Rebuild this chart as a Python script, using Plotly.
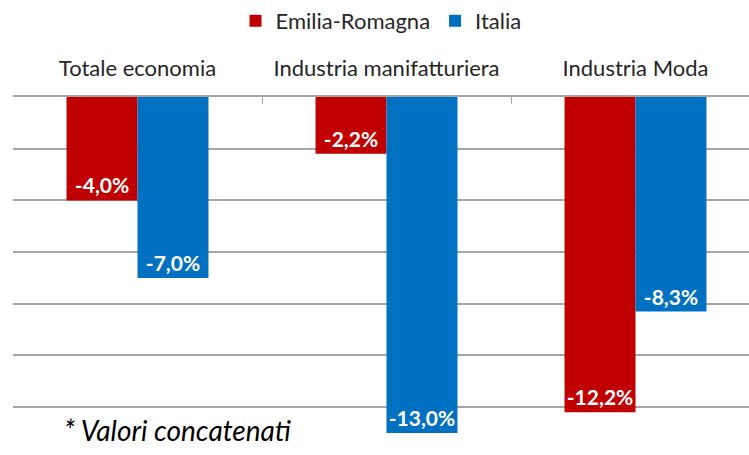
import plotly.graph_objects as go

categories = ["Totale economia", "Industria manifatturiera", "Industria Moda"]
emilia = [-4.0, -2.2, -12.2]
italia = [-7.0, -13.0, -8.3]
series_names = ["Emilia-Romagna", "Italia"]
colors = ["#C00000", "#0070C0"]

def fmt(v):
    return f"{v:.1f}%".replace(".", ",")

fig = go.Figure()
for name, vals, col in zip(series_names, [emilia, italia], colors):
    fig.add_trace(go.Bar(
        x=categories, y=vals, name=name, marker=dict(color=col, line=dict(width=0)),
        text=[fmt(v) for v in vals], textposition="inside", insidetextanchor="end",
        textangle=0, constraintext="none",
        textfont=dict(family="Lato", size=21, color="white", weight="bold"),
        cliponaxis=False,
    ))

fig.update_layout(
    width=749, height=455,
    margin=dict(l=13, r=0, t=97, b=0, autoexpand=False),
    paper_bgcolor="white", plot_bgcolor="white",
    barmode="group", bargap=0.43, bargroupgap=0,
    font=dict(family="Lato", size=22, color="#262626"),
    legend=dict(orientation="h", x=0.5, xanchor="center", y=1.0, yref="container",
                yanchor="top", font=dict(size=22), itemwidth=30,
                traceorder="normal"),
    xaxis=dict(side="top", showline=True, linecolor="#A6A6A6", linewidth=1.5,
               ticks="inside", tickson="boundaries", ticklen=7, tickcolor="#A6A6A6",
               range=[-0.5, 2.5 - 11/249], showgrid=False, ticklabelstandoff=10,
               automargin=False, tickfont=dict(size=22, color="#262626")),
    yaxis=dict(range=[-13.85, 0], dtick=2, showticklabels=False, showgrid=True,
               automargin=False,
               gridcolor="#A6A6A6", gridwidth=1.5, zeroline=False, showline=False),
    showlegend=True,
)

fig.add_annotation(text="<i>* Valori concatenati</i>", xref="paper", yref="paper",
                   x=49/736, xanchor="left", y=(455-430)/358, yanchor="middle",
                   showarrow=False, font=dict(size=28, color="black", family="Lato"))

fig.write_html("out.html", config={"displayModeBar": False},
               post_script="document.body.style.margin='0';document.body.style.overflow='hidden';")
